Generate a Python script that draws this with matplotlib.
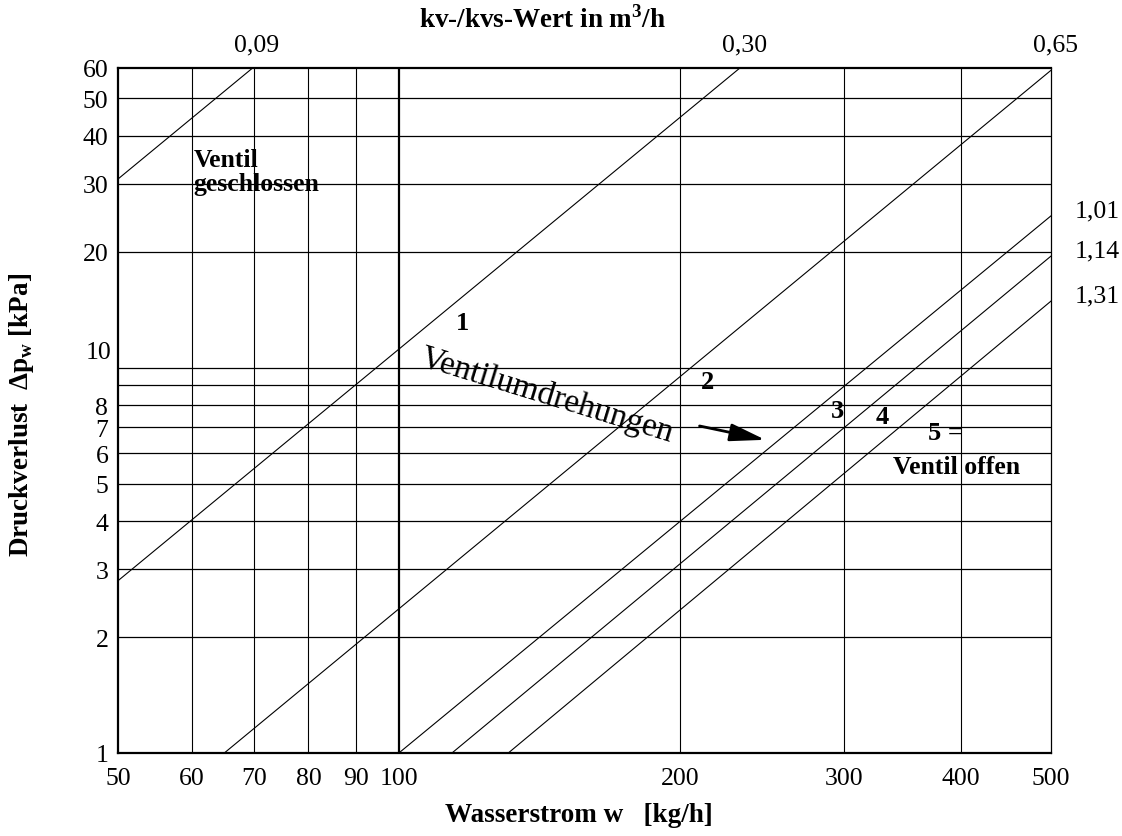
import numpy as np
import matplotlib
matplotlib.use('Agg')
import matplotlib.pyplot as plt
from matplotlib.ticker import NullLocator, NullFormatter

plt.rcParams['font.family'] = 'Liberation Serif'
plt.rcParams['mathtext.fontset'] = 'custom'
plt.rcParams['mathtext.rm'] = 'Liberation Serif'
plt.rcParams['mathtext.bf'] = 'Liberation Serif:bold'

# kv lines (start / end points on the log-log grid)
kv_labels = ['0,09', '0,30', '0,65', '1,01', '1,14', '1,31']
w_start = [50., 50., 65., 100., 114., 131.]
dp_start = [30.9, 2.8, 1.0, 1.0, 1.0, 1.0]
w_end = [69.7, 232., 500., 500., 500., 500.]
dp_end = [60., 60., 59.2, 24.8, 19.5, 14.9]

# grid and ticks
x_grid = [60, 70, 80, 90, 100, 200, 300, 400]
y_grid = [2, 3, 4, 5, 6, 7, 8, 9, 10, 20, 30, 40, 50]
x_ticks = [50, 60, 70, 80, 90, 100, 200, 300, 400, 500]
y_ticks = [1, 2, 3, 4, 5, 6, 7, 8, 20, 30, 40, 50, 60]

fig = plt.figure(figsize=(11.22, 8.37), dpi=100)
ax = fig.add_axes([0.1052, 0.0992, 0.8316, 0.8184])
ax.set_xscale('log')
ax.set_yscale('log')

for x in x_grid:
    ax.axvline(x, color='k', lw=1.6 if x == 100 else 0.8, zorder=1)
for y in y_grid:
    ax.axhline(y, color='k', lw=0.9, zorder=1)

for x0, y0, x1, y1 in zip(w_start, dp_start, w_end, dp_end):
    ax.plot([x0, x1], [y0, y1], color='k', lw=0.8, zorder=2)

ax.set_xlim(50, 500)
ax.set_ylim(1, 60)

ax.xaxis.set_minor_locator(NullLocator())
ax.yaxis.set_minor_locator(NullLocator())
ax.xaxis.set_minor_formatter(NullFormatter())
ax.yaxis.set_minor_formatter(NullFormatter())
ax.set_xticks(x_ticks)
ax.set_xticklabels([str(v) for v in x_ticks])
ax.set_yticks(y_ticks)
ax.set_yticklabels([str(v) for v in y_ticks])
ax.tick_params(axis='both', length=0, labelsize=18.5)
ax.tick_params(axis='x', pad=10)
ax.tick_params(axis='y', pad=7)
# the "10" label sits a bit above its grid line in the original
ax.annotate('10', xy=(0, 10), xycoords=ax.get_yaxis_transform(),
            xytext=(-5, 11), textcoords='offset points',
            ha='right', va='center', fontsize=18.5)

for side in ['left', 'top', 'bottom']:
    ax.spines[side].set_linewidth(1.6)
ax.spines['right'].set_linewidth(0.9)

# kv labels: top ones above the frame, the rest right of it
for lab, x1, y1 in zip(kv_labels, w_end, dp_end):
    if y1 >= 59:
        ax.annotate(lab, xy=(x1, 1.0), xycoords=ax.get_xaxis_transform(),
                    xytext=(3, 17), textcoords='offset points',
                    ha='center', va='center', fontsize=18.5)
    else:
        ax.annotate(lab, xy=(1.0, y1), xycoords=ax.get_yaxis_transform(),
                    xytext=(17, 4), textcoords='offset points',
                    ha='left', va='center', fontsize=18.5)

# annotations inside the chart
ax.text(60.2, 32.4, 'Ventil\ngeschlossen', fontsize=18.5, fontweight='bold',
        ha='left', va='center', linespacing=1.05)
ax.text(117, 13.1, '1', fontsize=19, fontweight='bold', ha='center', va='center')
ax.text(214, 9.2, '2', fontsize=19, fontweight='bold', ha='center', va='center')
ax.text(295, 7.75, '3', fontsize=19, fontweight='bold', ha='center', va='center')
ax.text(330, 7.45, '4', fontsize=19, fontweight='bold', ha='center', va='center')
ax.text(385, 6.8, '5 =', fontsize=19, fontweight='bold', ha='center', va='center')
ax.text(396, 5.55, 'Ventil offen', fontsize=18.5, fontweight='bold',
        ha='center', va='center')
ax.text(144, 8.5, 'Ventilumdrehungen', fontsize=24, rotation=-17,
        ha='center', va='center', rotation_mode='anchor')
ax.annotate('', xy=(247, 6.5), xytext=(210, 7.06),
            arrowprops=dict(arrowstyle='-|>,head_length=1.2,head_width=0.3',
                            color='k', lw=2, mutation_scale=18,
                            shrinkA=0, shrinkB=0))

fig.text(0.484, 0.976, 'kv-/kvs-Wert in m$^\\mathbf{3}$/h', fontsize=19.5,
         fontweight='bold', ha='center', va='center')
fig.text(0.516, 0.026, 'Wasserstrom w   [kg/h]', fontsize=19.5,
         fontweight='bold', ha='center', va='center')
fig.text(0.0196, 0.504, 'Druckverlust  \u0394p$_\\mathbf{w}$ [kPa]', fontsize=19.5,
         fontweight='bold', ha='center', va='center', rotation=90)

fig.savefig('out.png', dpi=100)
